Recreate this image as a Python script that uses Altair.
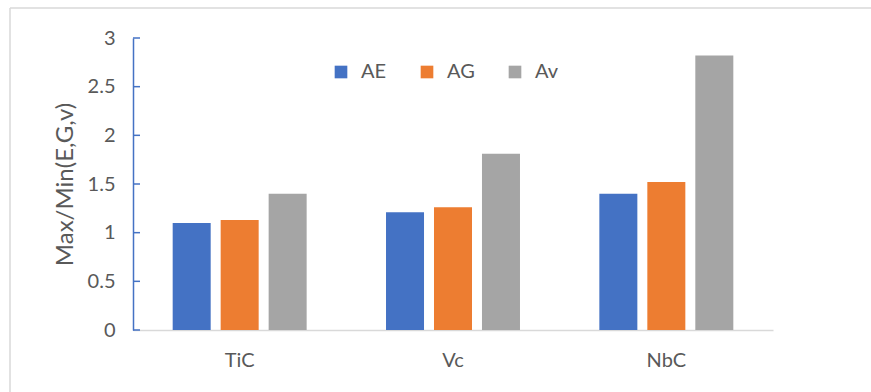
import altair as alt
import pandas as pd

categories = ["TiC", "Vc", "NbC"]
series = ["AE", "AG", "Av"]
ae_values = [1.10, 1.21, 1.40]
ag_values = [1.13, 1.26, 1.52]
av_values = [1.40, 1.81, 2.82]
y_ticks = [0, 0.5, 1, 1.5, 2, 2.5, 3]
colors = ["#4472C4", "#ED7D31", "#A5A5A5"]

rows = []
for s, vals in zip(series, [ae_values, ag_values, av_values]):
    for c, v in zip(categories, vals):
        rows.append({"Material": c, "Series": s, "Value": v})
df = pd.DataFrame(rows)
ticks_df = pd.DataFrame({"t": y_ticks})

FONT = "Lato"
TXT = "#595959"

y_scale = alt.Scale(domain=[0, 3])

bars = alt.Chart(df).mark_bar().encode(
    x=alt.X("Material:N", sort=categories,
            scale=alt.Scale(paddingInner=0.372, paddingOuter=0.186),
            axis=alt.Axis(title=None, labelAngle=0, ticks=False, domainColor="#D9D9D9",
                          domainWidth=1.5, labelPadding=20, labelFontSize=20,
                          labelColor=TXT, labelFont=FONT)),
    xOffset=alt.XOffset("Series:N", sort=series,
                        scale=alt.Scale(paddingInner=0.208, paddingOuter=0)),
    y=alt.Y("Value:Q", scale=y_scale,
            axis=alt.Axis(title="Max/Min(E,G,v)", values=y_ticks, format="~g", grid=False,
                          ticks=False, domainColor="#4472C4", domainWidth=1.5,
                          labelPadding=18, labelFontSize=20, labelColor=TXT, labelFont=FONT,
                          titleFontSize=24, titleColor=TXT, titleFont=FONT,
                          titleFontWeight="normal", titleX=-68, titleY=146,
                          titleAngle=270, titleAlign="center", titleBaseline="middle")),
    color=alt.Color("Series:N", sort=series,
                    scale=alt.Scale(domain=series, range=colors),
                    legend=alt.Legend(title=None, orient="none", direction="horizontal",
                                      legendX=198, legendY=24, symbolType="square",
                                      symbolSize=160, symbolStrokeWidth=0,
                                      labelFontSize=20, labelColor=TXT, labelFont=FONT,
                                      labelOffset=10, columnPadding=30)),
)

tick_marks = alt.Chart(ticks_df).mark_rule(color="#4472C4", strokeWidth=1.5).encode(
    y=alt.Y("t:Q", scale=y_scale),
    x=alt.value(0),
    x2=alt.value(7),
)

frame_top = alt.Chart(ticks_df.head(1)).mark_rule(color="#D9D9D9", strokeWidth=1.5).encode(
    x=alt.value(-123), x2=alt.value(738), y=alt.value(-30)
)
frame_left = alt.Chart(ticks_df.head(1)).mark_rule(color="#D9D9D9", strokeWidth=1.5).encode(
    x=alt.value(-123), y=alt.value(-30), y2=alt.value(356)
)

chart = alt.layer(frame_top, frame_left, bars, tick_marks).properties(
    width=640, height=292,
    autosize=alt.AutoSizeParams(type="none"),
    padding={"left": 133, "top": 38, "right": 98, "bottom": 62},
    background="white",
).configure_view(stroke=None)

chart.save("out.html", embed_options={"renderer": "svg", "actions": False})
